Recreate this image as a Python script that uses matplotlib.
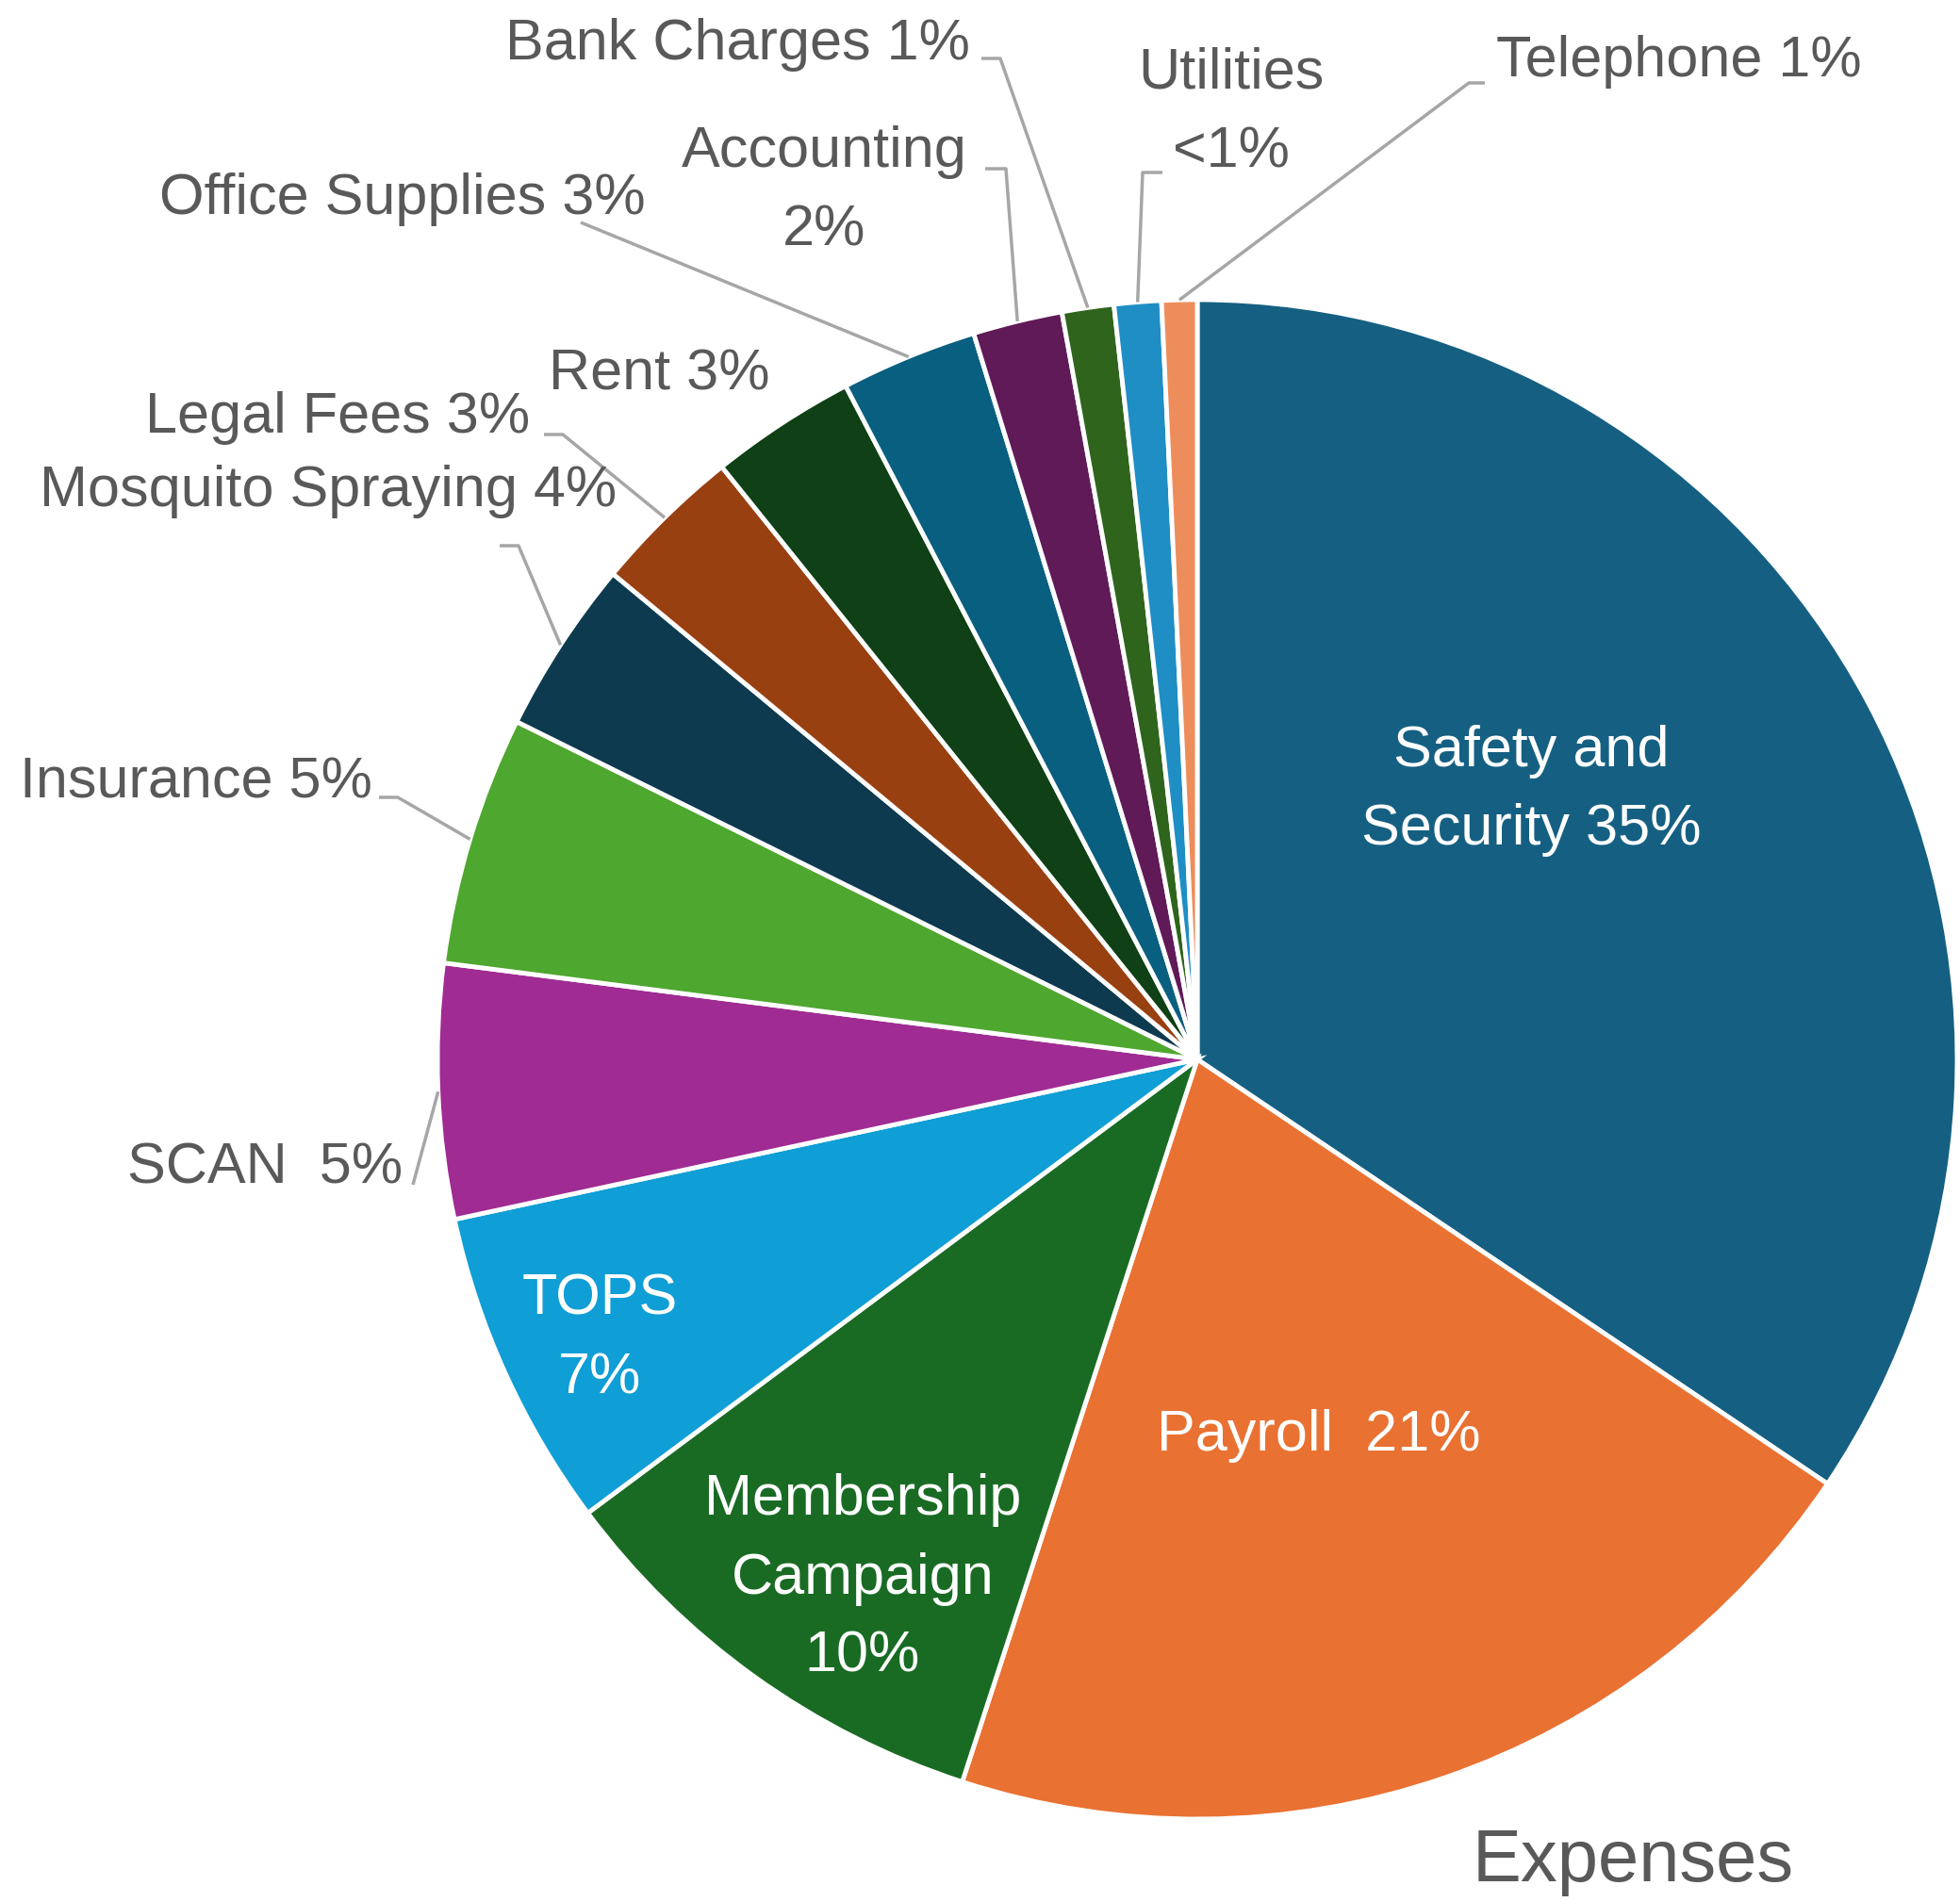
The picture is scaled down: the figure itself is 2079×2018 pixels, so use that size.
import numpy as np
import matplotlib
matplotlib.use("Agg")
import matplotlib.pyplot as plt

# Expense shares (percent), clockwise from 12 o'clock
categories = ["Safety and Security", "Payroll", "Membership Campaign", "TOPS", "SCAN",
              "Insurance", "Mosquito Spraying", "Legal Fees", "Rent", "Office Supplies",
              "Accounting", "Bank Charges", "Utilities", "Telephone"]
values = [34.4, 20.55, 9.8, 6.8, 5.4, 5.3, 3.7, 3.2, 3.1, 2.9, 1.9, 1.1, 1.0, 0.75]
labels = ["Safety and\nSecurity 35%", "Payroll  21%", "Membership\nCampaign\n10%", "TOPS\n7%",
          "SCAN  5%", "Insurance 5%", "Mosquito Spraying 4%", "Legal Fees 3%", "Rent 3%",
          "Office Supplies 3%", "Accounting\n2%", "Bank Charges 1%", "Utilities\n<1%",
          "Telephone 1%"]
colors = ["#156082", "#E97132", "#196B24", "#0F9ED5", "#A02B93", "#4EA72E", "#0D3A4E",
          "#994011", "#0F4016", "#095F80", "#601A58", "#2F641C", "#1F8EC5", "#ED8D5B"]
title = "Expenses"

W, H = 2079, 2018
plt.rcParams['font.family'] = ['Liberation Sans', 'DejaVu Sans']
grey = "#595959"
line_grey = "#A6A6A6"
fs = 44

fig = plt.figure(figsize=(W / 100, H / 100), dpi=100)
ax = fig.add_axes([0, 0, 1, 1])

cx, cy, r = 1270, H - 1124, 806
wedges, _ = ax.pie(values, colors=colors, startangle=90, counterclock=False,
                   center=(cx, cy), radius=r,
                   wedgeprops=dict(edgecolor="white", linewidth=3.5))
ax.set_xlim(0, W)
ax.set_ylim(0, H)
ax.set_aspect("equal")
ax.axis("off")


def anchor(i):
    w = wedges[i]
    a = np.deg2rad((w.theta1 + w.theta2) / 2)
    return cx + r * np.cos(a), cy + r * np.sin(a)


# labels inside the slices (x, y from top, in pixels)
inside = {0: (1624, 839), 1: (1399, 1524), 2: (915, 1675), 3: (636, 1421)}
for i, (x, y) in inside.items():
    ax.text(x, H - y, labels[i], color="white", fontsize=fs, ha="center", va="center",
            linespacing=1.6)

# outside labels: text position, alignment, leader points (from top)
outside = {
    4: ((427, 1240), "right", [(438, 1257)]),
    5: ((395, 831), "right", [(402, 846), (422, 846)]),
    6: ((654, 521), "right", [(530, 579), (550, 579)]),
    7: ((562, 444), "right", [(577, 461), (597, 461)]),
    8: ((817, 398), "right", None),
    9: ((685, 212), "right", [(616, 236)]),
    10: ((874, 203), "center", [(1045, 179), (1067, 179)]),
    11: ((1029, 48), "right", [(1041, 62), (1061, 62)]),
    12: ((1306, 120), "center", [(1233, 183), (1212, 183)]),
    13: ((1587, 66), "left", [(1575, 88), (1558, 88)]),
}
for i, ((x, y), ha, pts) in outside.items():
    ax.text(x, H - y, labels[i], color=grey, fontsize=fs, ha=ha, va="center",
            linespacing=1.6, multialignment="center")
    if pts:
        xs = [p[0] for p in pts] + [anchor(i)[0]]
        ys = [H - p[1] for p in pts] + [anchor(i)[1]]
        ax.plot(xs, ys, color=line_grey, lw=2.5, solid_capstyle="butt")

ax.text(1562, H - 1976, title, color=grey, fontsize=56, ha="left", va="center")

fig.savefig("out.png", dpi=100, facecolor="white")
